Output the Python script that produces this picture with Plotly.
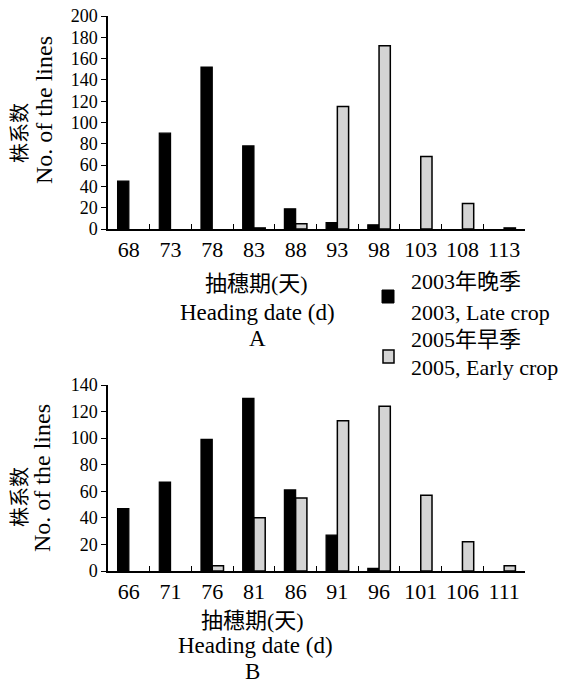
import plotly.graph_objects as go

# ---- data ----
days_a = ["68", "73", "78", "83", "88", "93", "98", "103", "108", "113"]
late_2003_a = [45, 90, 152, 78, 19, 6, 4, 0, 0, 0]
early_2005_a = [0, 0, 0, 1, 5, 115, 172, 68, 24, 1]

days_b = ["66", "71", "76", "81", "86", "91", "96", "101", "106", "111"]
late_2003_b = [47, 67, 99, 130, 61, 27, 2, 0, 0, 0]
early_2005_b = [0, 0, 4, 40, 55, 113, 124, 57, 22, 4]

yticks_a = [0, 20, 40, 60, 80, 100, 120, 140, 160, 180, 200]
yticks_b = [0, 20, 40, 60, 80, 100, 120, 140]

name_late = "2003年晚季<br>2003, Late crop"
name_early = "2005年早季<br>2005, Early crop"

# ---- layout helpers ----
W, H = 571, 684
FONT = "Liberation Serif, Times New Roman, Noto Sans CJK SC, serif"


def px(x):
    return x / W


def py(y):
    return 1 - y / H


BLACK = "#000000"
GREY = "#d4d4d4"

fig = go.Figure()

for xa, ya, cats, late, early in [
    ("x", "y", days_a, late_2003_a, early_2005_a),
    ("x2", "y2", days_b, late_2003_b, early_2005_b),
]:
    fig.add_trace(go.Bar(x=cats, y=late, name=name_late, xaxis=xa, yaxis=ya,
                         marker=dict(color=BLACK,
                                     line=dict(color=BLACK,
                                               width=[1.2 if v > 0 else 0 for v in late])),
                         showlegend=False))
    fig.add_trace(go.Bar(x=cats, y=early, name=name_early, xaxis=xa, yaxis=ya,
                         marker=dict(color=GREY,
                                     line=dict(color=BLACK,
                                               width=[1.5 if v > 0 else 0 for v in early])),
                         showlegend=False))

xaxis_common = dict(
    type="category", showline=True, linecolor="black", linewidth=1.5,
    ticks="inside", ticklen=5, tickwidth=1.2, tickcolor="black",
    tickson="boundaries", showgrid=False, zeroline=False, tickangle=0,
    tickfont=dict(family=FONT, size=22, color="black"),
    range=[-0.5, 9.5], domain=[px(108), px(525)],
)
yaxis_common = dict(
    showline=True, linecolor="black", linewidth=1.5,
    ticks="outside", ticklen=5, tickwidth=1.2, tickcolor="black",
    showgrid=False, zeroline=False,
    tickfont=dict(family=FONT, size=18, color="black"),
)

fig.update_layout(
    width=W, height=H,
    margin=dict(l=0, r=0, t=0, b=0, autoexpand=False),
    paper_bgcolor="white", plot_bgcolor="white",
    barmode="group", bargap=0.46, bargroupgap=0,
    showlegend=False,
    xaxis=dict(**xaxis_common, anchor="y"),
    yaxis=dict(**yaxis_common, anchor="x", range=[0, 200], tickvals=yticks_a,
               domain=[py(229), py(16)]),
    xaxis2=dict(**xaxis_common, anchor="y2"),
    yaxis2=dict(**yaxis_common, anchor="x2", range=[0, 140], tickvals=yticks_b,
                domain=[py(571), py(385)]),
)

ann = []


def text(x, y, s, size, angle=0):
    ann.append(dict(x=px(x), y=py(y), xref="paper", yref="paper", text=s,
                    showarrow=False, xanchor="center", yanchor="middle",
                    textangle=angle,
                    font=dict(family=FONT, size=size, color="black")))


# y-axis titles
text(20, 133, "株系数", 20, -90)
text(44, 110, "No. of the lines", 24, -90)
text(20, 497, "株系数", 20, -90)
text(42, 478, "No. of the lines", 24, -90)

# x-axis titles
text(256, 283, "抽穗期(天)", 22)
text(257, 312, "Heading date (d)", 23)
text(257, 338, "A", 23)
text(252, 620, "抽穗期(天)", 22)
text(255, 645, "Heading date (d)", 23)
text(252, 671, "B", 23)

# legend
for yy, s in [(282, "2003年晚季"), (312, "2003, Late crop"),
              (339, "2005年早季"), (367, "2005, Early crop")]:
    ann.append(dict(x=px(409), y=py(yy), xref="paper", yref="paper", text=s,
                    showarrow=False, xanchor="left", yanchor="middle",
                    font=dict(family=FONT, size=22, color="black")))

fig.update_layout(annotations=ann)

fig.add_shape(type="rect", xref="paper", yref="paper",
              x0=px(382), x1=px(394), y0=py(303), y1=py(290),
              fillcolor=BLACK, line=dict(color=BLACK, width=1))
fig.add_shape(type="rect", xref="paper", yref="paper",
              x0=px(383), x1=px(394), y0=py(363), y1=py(350),
              fillcolor=GREY, line=dict(color=BLACK, width=1.5))

fig.write_html("out.html", config={"displayModeBar": False},
               post_script="document.body.style.margin='0';")
